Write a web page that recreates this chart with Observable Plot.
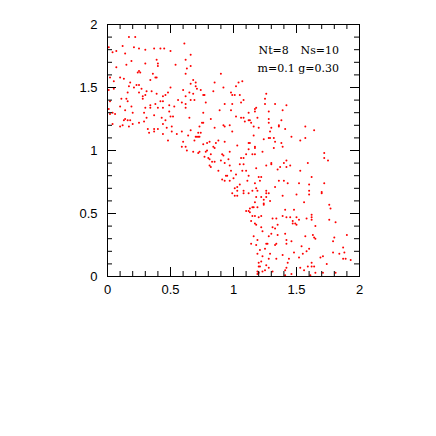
<!DOCTYPE html>
<html><head><meta charset="utf-8">
<script src="https://cdn.jsdelivr.net/npm/d3@7"></script>
<script src="https://cdn.jsdelivr.net/npm/@observablehq/plot@0.6"></script>
<style>body{margin:0;background:#fff}</style>
</head><body><div id="chart"></div>
<script>
const xs = [
0.17,0.22,0.01,0.12,0.21,0.25,0.30,0.37,0.42,0.45,0.50,0.61,0.04,0.07,0.14,0.66,0.19,0.39,0.30,0.40,0.62,0.07,0.15,0.40,0.54,0.66,0.25,0.24,0.26,0.63,0.36,0.38,0.39,0.62,0.02,0.10,0.13,0.90,0.05,0.18,0.34,0.68,0.66,0.70,0.23,0.25,0.17,0.70,0.71,0.85,0.92,0.98,0.74,0.50,0.01,0.05,0.21,0.27,0.60,0.65,0.31,0.35,0.25,0.48,0.16,0.28,0.30,0.46,0.39,0.44,0.68,0.76,0.77,0.84,0.99,0.11,0.15,0.28,0.42,0.44,0.56,0.62,0.66,0.69,0.02,0.10,0.16,0.34,0.38,0.49,0.59,0.62,0.78,0.93,0.99,0.19,0.30,0.34,0.40,0.44,0.53,0.62,
1.04,1.07,1.02,1.01,1.05,1.08,1.06,1.26,1.25,1.25,1.33,1.42,1.18,
0.01,0.14,0.20,0.49,0.02,0.06,0.29,0.37,0.43,0.50,0.52,0.65,0.76,0.89,0.98,0.13,0.14,0.16,0.18,0.31,0.46,0.44,0.29,0.25,0.20,0.10,0.12,0.17,0.76,0.75,0.82,0.92,0.93,0.51,0.47,0.32,0.37,0.40,0.33,0.37,0.44,0.51,0.55,0.59,0.66,0.73,0.85,0.99,0.97,0.64,0.72,0.74,0.70,0.71,0.73,0.72,0.69,0.60,0.48,0.88,0.93,0.81,0.76,0.79,0.86,0.84,0.85,0.59,0.62,0.63,0.68,0.73,0.72,0.78,0.82,0.79,0.91,0.92,0.97,0.77,0.80,0.81,0.83,0.85,0.90,0.96,0.93,0.81,0.82,0.97,0.98,0.88,0.94,0.95,0.91,0.93,0.97,1.00,0.99,0.04,0.04,
1.02,1.06,1.08,1.12,1.17,1.17,1.28,1.39,1.09,1.12,1.13,1.14,1.19,1.28,1.28,1.38,1.36,1.36,1.16,1.20,1.30,1.41,1.57,1.64,1.29,1.16,1.46,1.57,1.53,1.28,1.29,1.32,1.24,1.33,1.38,1.12,1.13,1.03,1.17,1.17,1.39,1.12,1.32,1.23,1.10,1.15,1.17,1.08,1.06,1.72,1.72,1.75,1.42,1.40,1.30,1.30,1.05,1.08,1.26,1.37,1.42,1.45,1.59,1.18,1.35,1.07,1.10,1.53,1.02,1.12,1.62,1.20,1.22,1.21,1.11,1.36,1.40,1.43,1.52,1.60,1.72,1.17,1.33,1.05,1.03,1.01,1.08,1.03,1.15,1.18,1.19,1.26,1.60,1.70,
1.01,1.03,1.08,1.12,1.26,1.28,1.22,1.26,1.18,1.24,1.39,1.50,1.60,1.70,1.24,1.24,1.29,1.17,1.15,1.13,1.16,1.19,1.10,1.12,1.13,1.41,1.48,1.56,1.76,1.77,1.15,1.17,1.20,1.22,1.39,1.42,1.45,1.50,1.62,1.62,1.31,1.34,1.14,1.47,1.52,1.58,1.62,1.76,1.81,1.17,1.18,1.22,1.31,1.33,1.35,1.47,1.49,1.50,1.65,1.23,1.30,1.35,1.41,1.16,1.19,1.28,1.34,1.42,1.42,1.46,1.57,1.63,1.64,1.65,1.80,1.90,1.79,1.14,1.18,1.26,1.27,1.33,1.54,1.60,1.58,1.87,1.21,1.25,1.48,1.55,1.79,1.84,1.88,1.19,1.23,1.29,1.39,1.28,1.34,1.44,1.52,1.69,1.71,1.87,1.89,1.93,1.20,1.22,1.26,1.43,1.62,1.74,1.21,1.20,1.28,1.42,1.53,1.59,1.62,1.64,1.19,1.23,1.25,1.31,1.41,1.56,1.20,1.19,1.46,1.65,1.71,1.81,1.41,1.61
];
const ys = [
1.90,1.90,1.82,1.83,1.82,1.81,1.80,1.81,1.81,1.81,1.79,1.85,1.78,1.79,1.77,1.76,1.71,1.72,1.69,1.69,1.72,1.66,1.68,1.67,1.68,1.67,1.63,1.62,1.62,1.65,1.61,1.58,1.58,1.61,1.58,1.58,1.57,1.61,1.55,1.54,1.56,1.56,1.53,1.54,1.52,1.52,1.51,1.51,1.49,1.54,1.50,1.46,1.48,1.50,1.48,1.49,1.50,1.49,1.48,1.46,1.47,1.47,1.46,1.46,1.46,1.43,1.44,1.44,1.45,1.43,1.45,1.44,1.44,1.47,1.44,1.41,1.41,1.41,1.39,1.39,1.40,1.43,1.40,1.40,1.39,1.35,1.39,1.36,1.37,1.36,1.38,1.37,1.38,1.37,1.37,1.35,1.34,1.34,1.34,1.34,1.35,1.34,
1.54,1.55,1.51,1.44,1.44,1.40,1.38,1.45,1.41,1.37,1.37,1.36,1.34,
1.33,1.32,1.30,1.31,1.29,1.29,1.30,1.28,1.26,1.27,1.27,1.26,1.30,1.32,1.32,1.24,1.25,1.24,1.24,1.26,1.24,1.21,1.23,1.22,1.21,1.19,1.20,1.19,1.22,1.22,1.25,1.20,1.19,1.19,1.18,1.17,1.17,1.17,1.14,1.15,1.13,1.15,1.13,1.15,1.16,1.19,1.18,1.15,1.20,1.12,1.14,1.14,1.11,1.11,1.11,1.11,1.08,1.07,1.08,1.08,1.07,1.07,1.05,1.06,1.06,1.03,1.02,1.03,1.03,1.00,0.99,0.99,0.98,0.99,0.97,1.00,0.97,0.96,0.99,0.95,0.94,0.93,0.91,0.91,0.92,0.93,0.90,0.88,0.87,0.88,0.84,0.84,0.80,0.80,0.77,0.76,0.76,0.78,0.66,1.30,1.21,
1.27,1.26,1.26,1.30,1.33,1.31,1.31,1.32,1.23,1.24,1.24,1.22,1.26,1.25,1.22,1.24,1.20,1.19,1.19,1.18,1.18,1.17,1.19,1.16,1.15,1.12,1.11,1.10,1.08,1.10,1.10,1.10,1.09,1.07,1.06,1.06,1.06,1.04,1.03,1.02,1.03,1.01,1.02,0.99,0.97,0.97,0.97,0.94,0.94,0.98,0.94,0.92,0.92,0.90,0.90,0.89,0.89,0.89,0.88,0.87,0.87,0.88,0.90,0.86,0.85,0.84,0.84,0.84,0.81,0.80,0.79,0.79,0.79,0.76,0.76,0.76,0.76,0.74,0.74,0.73,0.74,0.74,0.71,0.73,0.71,0.70,0.68,0.68,0.68,0.70,0.68,0.68,0.68,0.67,
0.64,0.64,0.66,0.66,0.66,0.66,0.63,0.63,0.63,0.61,0.64,0.65,0.65,0.66,0.58,0.57,0.60,0.59,0.55,0.54,0.55,0.55,0.52,0.52,0.51,0.53,0.53,0.59,0.57,0.54,0.48,0.48,0.47,0.48,0.48,0.47,0.47,0.47,0.49,0.47,0.46,0.46,0.44,0.44,0.45,0.46,0.45,0.45,0.43,0.42,0.41,0.39,0.39,0.38,0.41,0.42,0.42,0.41,0.40,0.36,0.34,0.33,0.34,0.32,0.29,0.32,0.26,0.29,0.26,0.28,0.32,0.33,0.31,0.30,0.31,0.33,0.28,0.26,0.25,0.26,0.26,0.25,0.24,0.22,0.20,0.23,0.21,0.22,0.19,0.18,0.19,0.18,0.19,0.18,0.16,0.18,0.17,0.14,0.14,0.14,0.15,0.15,0.16,0.14,0.14,0.13,0.11,0.12,0.09,0.11,0.11,0.10,0.08,0.08,0.07,0.07,0.07,0.08,0.08,0.08,0.04,0.04,0.05,0.04,0.05,0.05,0.03,0.02,0.02,0.03,0.03,0.03,0.01,0.01
];
const majorTicks = [0, 0.5, 1, 1.5, 2];
const minorTicks = [0.1, 0.2, 0.3, 0.4, 0.6, 0.7, 0.8, 0.9, 1.1, 1.2, 1.3, 1.4, 1.6, 1.7, 1.8, 1.9];
const tickLabels = ["0", "0.5", "1", "1.5", "2"];
const noteLine1a = "Nt=8";
const noteLine1b = "Ns=10";
const noteLine2 = "m=0.1 g=0.30";

const n = Math.min(xs.length, ys.length);
const points = d3.range(n).map(i => ({x: xs[i], y: ys[i]}));

const minorLen = 5, majorLen = 9;
const frameH = 252, frameW = 252;

const chart = Plot.plot({
  width: 436,
  height: 436,
  marginLeft: 107,
  marginRight: 77,
  marginTop: 24,
  marginBottom: 160,
  x: {domain: [0, 2]},
  y: {domain: [0, 2]},
  style: {background: "white", color: "black", fontFamily: "'Liberation Sans', Arial, sans-serif"},
  marks: [
    Plot.dot(points, {x: "x", y: "y", r: 1, fill: "#ff0000", stroke: "none"}),
    Plot.ruleX(minorTicks, {insetTop: frameH - minorLen, stroke: "black"}),
    Plot.ruleX(minorTicks, {insetBottom: frameH - minorLen, stroke: "black"}),
    Plot.ruleY(minorTicks, {insetRight: frameW - minorLen, stroke: "black"}),
    Plot.ruleY(minorTicks, {insetLeft: frameW - minorLen, stroke: "black"}),
    Plot.ruleX(majorTicks, {insetTop: frameH - majorLen, stroke: "black"}),
    Plot.ruleX(majorTicks, {insetBottom: frameH - majorLen, stroke: "black"}),
    Plot.ruleY(majorTicks, {insetRight: frameW - majorLen, stroke: "black"}),
    Plot.ruleY(majorTicks, {insetLeft: frameW - majorLen, stroke: "black"}),
    Plot.frame({stroke: "black", strokeWidth: 1}),
    Plot.axisX(majorTicks, {tickSize: 0, tickPadding: 8, fontSize: 13, label: null, tickFormat: (d) => tickLabels[majorTicks.indexOf(d)]}),
    Plot.axisY(majorTicks, {tickSize: 0, tickPadding: 10, fontSize: 13, label: null, tickFormat: (d) => tickLabels[majorTicks.indexOf(d)]}),
    Plot.text([noteLine1a], {frameAnchor: "top-left", dx: 151, dy: 29, lineAnchor: "bottom", textAnchor: "start", fontFamily: "'DejaVu Serif', serif", fontSize: 11, fill: "black"}),
    Plot.text([noteLine1b], {frameAnchor: "top-left", dx: 193, dy: 29, lineAnchor: "bottom", textAnchor: "start", fontFamily: "'DejaVu Serif', serif", fontSize: 11, fill: "black"}),
    Plot.text([noteLine2], {frameAnchor: "top-left", dx: 150, dy: 47, lineAnchor: "bottom", textAnchor: "start", fontFamily: "'DejaVu Serif', serif", fontSize: 11, fill: "black"})
  ]
});
document.getElementById("chart").appendChild(chart);
</script>
</body></html>
